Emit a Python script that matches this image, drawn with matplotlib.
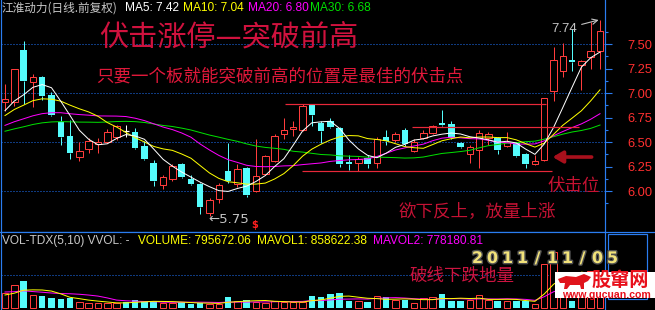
import numpy as np
import pandas as pd
import matplotlib
matplotlib.use("Agg")
import matplotlib.pyplot as plt
from matplotlib.patches import Rectangle, Polygon
from matplotlib.lines import Line2D
import matplotlib.patheffects as pe

# ---------------- data ----------------
opens = [6.91, 6.91, 7.44, 7.11, 7.16, 6.98, 6.70, 6.56, 6.35, 6.43,
         6.48, 6.50, 6.55, 6.61, 6.60, 6.46, 6.29, 6.06, 6.12, 6.28,
         6.12, 6.07, 5.78, 5.92, 6.20, 6.07, 6.24, 6.00, 6.17, 6.31,
         6.58, 6.63, 6.62, 6.88, 6.69, 6.71, 6.64, 6.30, 6.29, 6.34,
         6.29, 6.55, 6.52, 6.62, 6.41, 6.54, 6.59, 6.69, 6.68, 6.49,
         6.38, 6.42, 6.54, 6.54, 6.46, 6.49, 6.38, 6.28, 6.32, 7.02,
         7.22, 7.34, 7.29, 7.37, 7.43]
highs = [7.09, 7.25, 7.53, 7.19, 7.17, 7.01, 6.77, 6.72, 6.50, 6.54,
         6.54, 6.63, 6.67, 6.67, 6.64, 6.51, 6.32, 6.16, 6.28, 6.29,
         6.16, 6.08, 5.93, 6.08, 6.49, 6.28, 6.25, 6.53, 6.37, 6.58,
         6.75, 6.71, 6.89, 6.89, 6.71, 6.74, 6.65, 6.37, 6.35, 6.37,
         6.55, 6.62, 6.60, 6.64, 6.53, 6.62, 6.67, 6.83, 6.71, 6.50,
         6.47, 6.62, 6.60, 6.55, 6.60, 6.50, 6.39, 6.37, 6.95, 7.47,
         7.51, 7.65, 7.34, 7.72, 7.74]
lows = [6.82, 6.87, 6.89, 6.86, 6.93, 6.77, 6.47, 6.33, 6.31, 6.39,
        6.39, 6.49, 6.52, 6.55, 6.43, 6.32, 6.05, 6.02, 6.10, 6.13,
        6.06, 5.77, 5.75, 5.88, 6.08, 6.04, 5.94, 5.99, 6.16, 6.30,
        6.53, 6.56, 6.61, 6.66, 6.49, 6.64, 6.25, 6.21, 6.20, 6.23,
        6.23, 6.47, 6.50, 6.46, 6.40, 6.53, 6.58, 6.66, 6.53, 6.44,
        6.29, 6.23, 6.47, 6.38, 6.45, 6.35, 6.23, 6.27, 6.31, 6.92,
        7.16, 7.22, 7.03, 7.24, 7.25]
closes = [6.94, 7.24, 7.12, 7.16, 6.97, 6.78, 6.55, 6.39, 6.41, 6.51,
          6.50, 6.60, 6.66, 6.61, 6.44, 6.33, 6.10, 6.14, 6.26, 6.14,
          6.07, 5.84, 5.91, 6.06, 6.10, 6.22, 5.96, 6.15, 6.36, 6.56,
          6.62, 6.65, 6.87, 6.78, 6.61, 6.65, 6.28, 6.28, 6.33, 6.28,
          6.53, 6.51, 6.58, 6.48, 6.50, 6.59, 6.66, 6.67, 6.54, 6.45,
          6.45, 6.59, 6.58, 6.42, 6.50, 6.36, 6.28, 6.31, 6.95, 7.34,
          7.38, 7.32, 7.33, 7.43, 7.63]
volumes = [450000, 690000, 810000, 390000, 360000, 291000, 270000, 291000, 189000, 141000,
           141000, 141000, 159000, 180000, 240000, 201000, 219000, 141000, 159000, 171000,
           129000, 150000, 120000, 120000, 339000, 219000, 240000, 171000, 159000, 219000,
           171000, 171000, 171000, 369000, 339000, 420000, 450000, 210000, 201000, 180000,
           369000, 339000, 240000, 240000, 141000, 291000, 339000, 420000, 219000, 201000,
           240000, 390000, 240000, 219000, 219000, 219000, 219000, 129000, 1311000, 1680000,
           1090000, 219000, 1080000, 1108000, 795672]
# closes / volumes before the visible window (estimated from where the MA lines start)
prior_closes = [6.52, 6.48, 6.45, 6.47, 6.50, 6.46, 6.44, 6.50, 6.53, 6.55,
                6.50, 6.52, 6.55, 6.53, 6.58, 6.56, 6.60, 6.58, 6.63, 6.65,
                6.62, 6.68, 6.70, 6.78, 6.82,
                6.75, 6.80, 6.78, 6.83]
prior_volumes = [600000, 540000, 620000, 560000, 530000, 420000, 360000, 340000, 380000]

ma_periods = [5, 10, 20, 30]
vol_ma_periods = [5, 10]
price_ticks = [6.00, 6.25, 6.50, 6.75, 7.00, 7.25, 7.50]
grid_levels = [6.00, 6.50, 7.00, 7.50]
line_levels = [6.89, 6.65, 6.20]          # red horizontal reference lines
line_spans = [(30.1, 58.2), (43.8, 61.7), (31.9, 58.8)]
arrow_level = 6.347

header_name = "江淮动力(日线.前复权)"
header_ma = ["MA5: 7.42", "MA10: 7.04", "MA20: 6.80", "MA30: 6.68"]
vol_header = ["VOL-TDX(5,10) VVOL: -", "VOLUME: 795672.06", "MAVOL1: 858622.38", "MAVOL2: 778180.81"]
title = "伏击涨停—突破前高"
subtitle = "只要一个板就能突破前高的位置是最佳的伏击点"
note_pos = "伏击位"
note_up = "欲下反上，放量上涨"
note_vol = "破线下跌地量"
date_text = "2011/11/05"

# ---------------- styling ----------------
W, H = 655, 310
BG = "black"
RED = "#ff3c3c"
CYAN = "#54fcfc"
BLUE = "#2a7df0"
GRID = "#1f74ff"
MA_COLORS = ["white", "#ffff00", "#ff00ff", "#00e000"]
CJK = ["Noto Sans CJK SC", "DejaVu Sans"]
LAT = ["Liberation Sans", "DejaVu Sans"]
px = 0.72  # one pixel in points

o = np.array(opens); h = np.array(highs); l = np.array(lows); c = np.array(closes)
v = np.array(volumes, dtype=float)
n = len(c)
idx = np.arange(n)

all_c = pd.Series(prior_closes + closes)
kc = len(prior_closes)
mas = [all_c.rolling(p).mean().to_numpy()[kc:] for p in ma_periods]
all_v = pd.Series(prior_volumes + volumes, dtype=float)
kv = len(prior_volumes)
vmas = [all_v.rolling(p).mean().to_numpy()[kv:] for p in vol_ma_periods]

fig = plt.figure(figsize=(W / 100, H / 100), dpi=100, facecolor=BG)


def fx(x):
    return x / W


def fy(y):
    return 1 - y / H


def ftext(x, y, s, **kw):
    kw.setdefault("va", "center")
    kw.setdefault("ha", "left")
    return fig.text(fx(x), fy(y), s, **kw)


step = 9.297   # pixels per candle
x0 = 5.0       # pixel x of first candle
xlim = ((1 - x0) / step, (605 - x0) / step)

axp = fig.add_axes([fx(1), fy(232), 604 / W, 232 / H], facecolor=BG)
axv = fig.add_axes([fx(1), fy(310), 604 / W, 78 / H], facecolor=BG)

# ---------------- price panel ----------------
body_w = 0.70
up = c > o
down = c < o
flat = c == o
col = np.where(up, RED, np.where(down, CYAN, "white"))
top = np.maximum(o, c)
bot = np.minimum(o, c)

for lev in grid_levels:
    axp.axhline(lev, color=GRID, lw=1.0 * px, ls=(0, (1, 2)), zorder=1)

axp.vlines(idx, top, h, colors=col, lw=1.0 * px, zorder=2)
axp.vlines(idx, l, bot, colors=col, lw=1.0 * px, zorder=2)
axp.bar(idx[up], (c - o)[up], bottom=o[up], width=body_w, facecolor=BG,
        edgecolor=RED, linewidth=1.0 * px, zorder=3)
axp.bar(idx[down], (o - c)[down], bottom=c[down], width=body_w, color=CYAN,
        linewidth=0, zorder=3)
axp.hlines(c[flat], idx[flat] - body_w / 2, idx[flat] + body_w / 2, colors="white",
           lw=1.2 * px, zorder=3)

for ma, mc in list(zip(mas, MA_COLORS))[::-1]:
    axp.plot(idx, ma, color=mc, lw=1.0 * px, zorder=4)

for lev, (a, b) in zip(line_levels, line_spans):
    axp.hlines(lev, a, b, colors="#e8283a", lw=1.2 * px, zorder=5)

axp.annotate("", xy=(58.9, arrow_level), xytext=(63.1, arrow_level),
             arrowprops=dict(arrowstyle="-|>,head_length=0.6,head_width=0.35",
                             color="#a8101c", lw=2.6, shrinkA=0, shrinkB=0), zorder=6)

# high / low labels
hi_i = int(np.argmax(h)); lo_i = int(np.argmin(l))
axp.annotate(f"{h[hi_i]:.2f}", xy=(hi_i - 0.15, h[hi_i] + 0.005),
             xytext=(60.2, 7.655), ha="center", va="center", color="#c4c4c4",
             fontsize=9.5, family=LAT,
             arrowprops=dict(arrowstyle="->", color="#c4c4c4", lw=0.8, shrinkA=1, shrinkB=0))
axp.text(lo_i - 0.15, 5.714, f"←{l[lo_i]:.2f}", color="#c4c4c4", fontsize=9.5,
         family=["DejaVu Sans"], ha="left", va="center")
axp.text(26.9, 5.653, "$", color="#ff2020", fontsize=7, fontweight="bold",
         ha="center", va="center", family=["DejaVu Sans"])

axp.set_xlim(*xlim)
axp.set_ylim(5.582, 7.949)
axp.set_xticks([])
axp.yaxis.tick_right()
axp.set_yticks(price_ticks)
axp.set_yticklabels([f"{t:.2f}" for t in price_ticks])
axp.set_yticks([t + 0.125 for t in price_ticks[:-1]] + [5.875, 7.625], minor=True)
axp.tick_params(axis="y", which="major", direction="out", length=5, width=0.8,
                color=BLUE, labelcolor="#ff3030", labelsize=9.3, pad=11)
axp.tick_params(axis="y", which="minor", direction="out", length=2.5, width=0.8, color=BLUE)
for lbl in axp.get_yticklabels():
    lbl.set_fontfamily(LAT)
for side in ("left", "right", "bottom"):
    axp.spines[side].set_color(BLUE)
    axp.spines[side].set_linewidth(1.2 * px)
axp.spines["top"].set_visible(False)

# ---------------- volume panel ----------------
vup = c > o
axv.axhline(1_000_000, color=GRID, lw=1.0 * px, ls=(0, (1, 2)), zorder=1)
axv.bar(idx[vup], v[vup], width=body_w, facecolor=BG, edgecolor=RED,
        linewidth=1.0 * px, zorder=2)
axv.bar(idx[~vup], v[~vup], width=body_w, color=CYAN, linewidth=0, zorder=2)
axv.plot(idx, vmas[1], color="#ff00ff", lw=1.0 * px, zorder=3)
axv.plot(idx, vmas[0], color="#ffff00", lw=1.0 * px, zorder=4)
axv.set_xlim(*xlim)
axv.set_ylim(-60000, 2280000)
axv.set_xticks([]); axv.set_yticks([])
for side in ("left", "right"):
    axv.spines[side].set_color(BLUE)
    axv.spines[side].set_linewidth(1.2 * px)
axv.spines["top"].set_visible(False)
axv.spines["bottom"].set_visible(False)

fig.add_artist(Line2D([0, 1], [fy(232), fy(232)], color=BLUE, lw=1.2 * px))
fig.add_artist(Rectangle((fx(608), fy(299)), 39 / W, 65 / H, transform=fig.transFigure,
                         fill=False, edgecolor=BLUE, lw=1.2 * px))

# ---------------- texts ----------------
ftext(2, 8, header_name, color="#c8c8c8", fontsize=8.4, family=CJK)
for s, xx, mc in zip(header_ma, [125, 183, 248, 310], MA_COLORS):
    ftext(xx, 8, s, color=mc, fontsize=8.6, family=LAT)

ftext(229, 37, title, color="#d0123e", fontsize=21, family=CJK, ha="center")
ftext(280, 76, subtitle, color="#e0183a", fontsize=12.6, family=CJK, ha="center")
ftext(574, 186, note_pos, color="#c81232", fontsize=12.6, family=CJK, ha="center")
ftext(477, 212.5, note_up, color="#c41234", fontsize=12.6, family=CJK, ha="center")

vh_cols = ["#c8c8c8", "#ffff00", "#ffff00", "#ff00ff"]
for s, xx, vc in zip(vol_header, [2, 138, 257, 373], vh_cols):
    ftext(xx, 241, s, color=vc, fontsize=8.6, family=LAT)

for k, ch in enumerate(date_text):
    t = ftext(477.5 + 15 * k, 258.5, ch, color="#f2e27a", fontsize=11.5, fontweight="bold",
              family=["DejaVu Sans"], ha="center")
    t.set_path_effects([pe.withStroke(linewidth=2, foreground="#505050")])

# watermark logo
fig.add_artist(Rectangle((fx(555), fy(298.3)), 100 / W, 26.6 / H,
                         transform=fig.transFigure, facecolor="white", edgecolor="none", zorder=8))
bull = [(558, 279), (566, 276), (576, 277), (584, 274), (591, 277), (588, 281), (584, 283),
        (584, 289), (581, 289), (580, 285), (570, 285), (567, 289), (564, 289), (565, 283), (560, 283)]
fig.add_artist(Polygon([(fx(a), fy(b)) for a, b in bull], closed=True, transform=fig.transFigure,
                       facecolor="#e0141c", edgecolor="none", zorder=9))
ftext(592, 280, "股窜网", color="#e8101c", fontsize=13.8, fontweight="bold", family=CJK, zorder=10)
ftext(562, 294.8, "www.gucuan.com", color="#e8101c", fontsize=7.6, fontweight="bold",
      family=LAT, zorder=10)

ftext(462.5, 275.5, note_vol, color="#cc1440", fontsize=12.6, family=CJK, ha="center", zorder=11)

fig.savefig("out.png", dpi=100, facecolor=BG)
